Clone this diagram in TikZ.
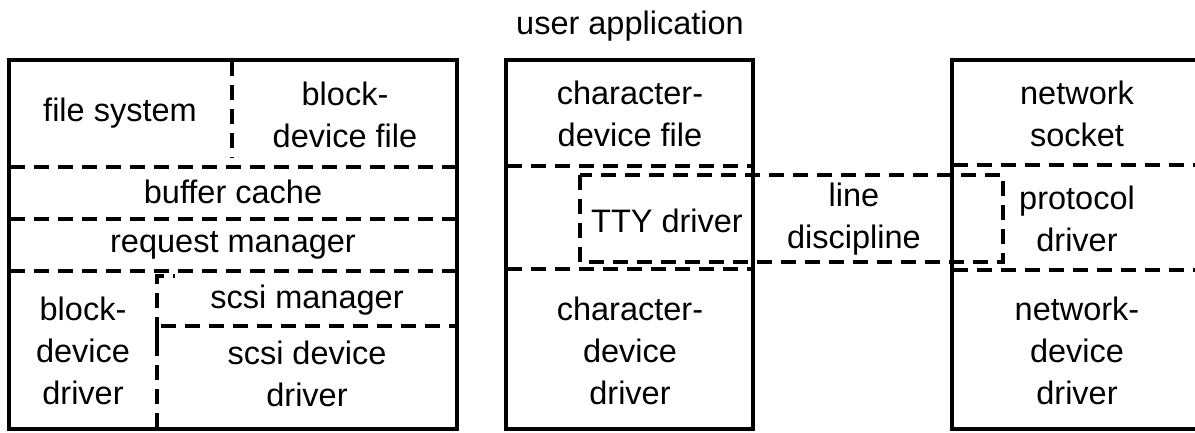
\documentclass[tikz,border=0pt]{standalone}
\usepackage{fontspec}
\setmainfont{Liberation Sans}
\begin{document}
\begin{tikzpicture}[x=1pt,y=-1pt,
  solidline/.style={line width=3.2pt},
  dashline/.style={line width=3.1pt, dash pattern=on 15pt off 9pt},
  lbl/.style={align=center, inner sep=0pt, font=\fontsize{32.5}{42}\selectfont}]
\useasboundingbox (0,0) rectangle (1195,432);
% title
\node[lbl] (title) at (630,26) {user application};
% left box
\draw[solidline] (9,60) rectangle (457,429);
\draw[dashline] (232,61) -- (232,158);
\draw[dashline] (10,167) -- (456,167);
\draw[dashline] (10,219) -- (456,219);
\draw[dashline] (10,271) -- (456,271);
\draw[dashline] (157,428) -- (157,276) -- (175,276);
\draw[dashline] (157,346) -- (157,326) -- (456,326);
\node[lbl] (fs) at (120,113) {file system};
\node[lbl] (bdf) at (345,115) {block-\\device file};
\node[lbl] (bc) at (233,192) {buffer cache};
\node[lbl] (rm) at (233,245) {request manager};
\node[lbl] (sm) at (307,300) {scsi manager};
\node[lbl] (bdd) at (83,351) {block-\\device\\driver};
\node[lbl] (sdd) at (307,374) {scsi device\\driver};
% middle box
\draw[solidline] (506,60) rectangle (753,429);
\draw[dashline] (507,166) -- (752,166);
\draw[dashline] (507,269) -- (752,269);
\node[lbl] (cdf) at (630,114) {character-\\device file};
\node[lbl] (cdd) at (630,351) {character-\\device\\driver};
% right box
\draw[solidline] (1205,60) -- (952,60) -- (952,429) -- (1205,429);
\draw[dashline] (953,165) -- (1200,165);
\draw[dashline] (953,270) -- (1200,270);
\node[lbl] (ns) at (1077,114) {network\\socket};
\node[lbl] (pd) at (1077,219) {protocol\\driver};
\node[lbl] (ndd) at (1077,351) {network-\\device\\driver};
% line discipline dashed box
\draw[dashline] (580,175) rectangle (1003,262);
\node[lbl] (tty) at (667,221) {TTY driver};
\node[lbl] (ld) at (854,219) {line\\discipline};
\end{tikzpicture}
\end{document}
